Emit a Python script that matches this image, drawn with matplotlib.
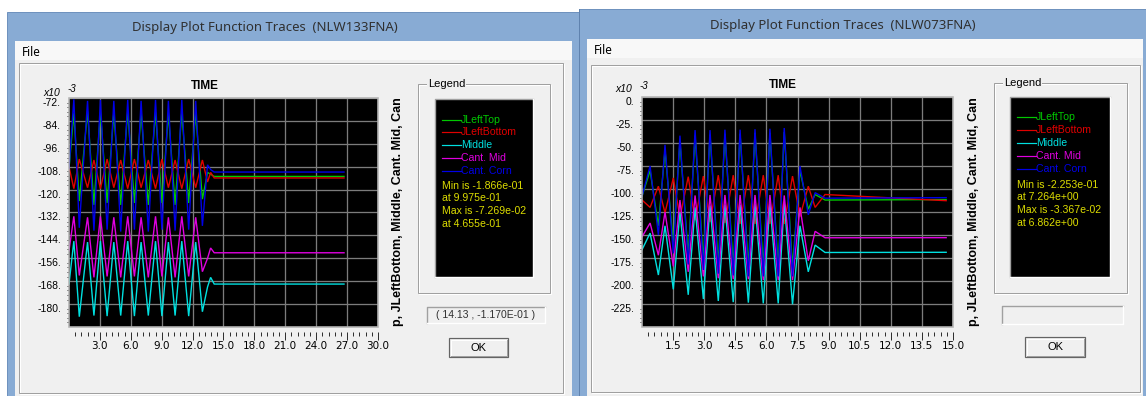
import matplotlib
matplotlib.use("Agg")
import matplotlib.pyplot as plt
from matplotlib.patches import Rectangle
from matplotlib.ticker import FixedLocator

W, H = 1146, 396
PT = 0.72  # one pixel in points (dpi 100)

names = ["JLeftTop", "JLeftBottom", "Middle", "Cant. Mid", "Cant. Corn"]
colors = ["#00C800", "#E00000", "#00E0E0", "#E000E0", "#0000E8"]

# ---- left window (NLW133FNA), values x1e-3 ----
t_left = [0.0, 0.47, 1.0, 1.8, 2.42, 3.05, 3.7, 4.35, 5.02, 5.7, 6.35, 7.0, 7.7,
          8.4, 9.02, 9.65, 10.3, 10.95, 11.62, 12.3, 12.95, 13.45, 13.75, 14.1, 26.7]
top_left = [-109, -80, -126, -79, -128, -79.5, -127, -80, -128, -79, -127, -80, -128,
            -79.5, -127, -80, -128, -79.5, -127, -80, -125, -111, -112, -113.1, -113.1]
bot_left = [-108, -119.5, -104, -119, -104.5, -119.5, -104, -119, -104.5, -119.5, -104, -119, -104.5,
            -119.5, -104, -119, -104.5, -119.5, -104, -119, -104.5, -116, -111, -113.9, -113.9]
mid_left = [-169.5, -147, -186.6, -147.5, -186, -147, -186.3, -147.5, -186, -147, -186.3, -147.5, -186,
            -147, -186.3, -147.5, -186, -147, -186.3, -147.5, -184, -171, -166, -169.5, -169.5]
cmid_left = [-152, -134, -165, -134.5, -166, -134, -165.5, -134.5, -166, -134, -165.5, -134.5, -166,
             -134, -165.5, -134.5, -166, -134, -165.5, -134.5, -163, -156, -150.6, -153.1, -153.1]
corn_left = [-109, -72.7, -140, -73.5, -141.5, -73, -141, -73.5, -142, -73, -141, -73.5, -142,
             -73, -141, -73.5, -141.5, -73, -141, -73.5, -139, -107, -109.5, -110.8, -110.8]
yticks_left = [-72, -84, -96, -108, -120, -132, -144, -156, -168, -180, -192]
xticks_left = [3, 6, 9, 12, 15, 18, 21, 24, 27, 30]
info_left = ["Min is -1.866e-01", "at 9.975e-01", "Max is -7.269e-02", "at 4.655e-01"]

# ---- right window (NLW073FNA), values x1e-3 ----
t_right = [0.0, 0.39, 0.79, 1.11, 1.51, 1.83, 2.23, 2.56, 2.96, 3.28, 3.68, 4.0, 4.4,
           4.73, 5.13, 5.45, 5.85, 6.17, 6.57, 6.86, 7.26, 7.62, 8.02, 8.35, 8.83, 14.67]
top_right = [-108, -80, -140, -58, -160, -48, -172, -42, -178, -41, -182, -40, -184,
             -40, -185, -39, -185, -39, -185, -38, -185, -80, -122, -106, -112, -111.5]
bot_right = [-112, -120, -97, -126, -88, -131, -86.6, -134, -86, -136, -85, -137, -85,
             -138, -85, -138, -85, -138, -85, -138, -86, -130, -97, -120, -106, -112.7]
mid_right = [-166, -148, -193.5, -140, -209, -125, -215, -120, -219.6, -118, -221.7, -117, -223,
             -117, -223.5, -116, -224.3, -116, -224.3, -115, -225.3, -140, -190, -161, -169, -168.8]
cmid_right = [-152, -137, -172, -125, -184, -112, -190, -107, -195, -106.5, -197, -106.5, -198,
              -106.5, -198, -106.5, -199, -106.5, -199, -107, -199, -120, -178, -146, -153, -152.9]
corn_right = [-108, -75, -150, -52, -170, -42, -182, -36, -188, -36, -192, -35.5, -194,
              -35.5, -195, -35, -195, -34.5, -195, -33.7, -195, -75, -128, -104, -110, -109.4]
yticks_right = [0, -25, -50, -75, -100, -125, -150, -175, -200, -225, -250]
xticks_right = [1.5, 3.0, 4.5, 6.0, 7.5, 9.0, 10.5, 12.0, 13.5, 15.0]
info_right = ["Min is -2.253e-01", "at 7.264e+00", "Max is -3.367e-02", "at 6.862e+00"]

UI = "Liberation Sans"
TITLE = "Noto Sans"

fig = plt.figure(figsize=(W / 100, H / 100), dpi=100)
fig.patch.set_facecolor("white")
bg = fig.add_axes([0, 0, 1, 1])
bg.set_xlim(0, W)
bg.set_ylim(H, 0)
bg.axis("off")


def box(x0, y0, x1, y1, fc="none", ec="none", lw=0, z=1):
    bg.add_patch(Rectangle((x0, y0), x1 - x0, y1 - y0, fc=fc, ec=ec, lw=lw * PT, zorder=z))


def etched(x0, y0, x1, y1):
    box(x0 + 1, y0 + 1, x1 + 1, y1 + 1, ec="white", lw=1, z=2)
    box(x0, y0, x1, y1, ec="#A0A0A0", lw=1, z=2)


def sunken(x0, y0, x1, y1, fc):
    box(x0, y0, x1, y1, fc=fc, z=2)
    bg.plot([x0, x0, x1], [y1, y0, y0], color="#A0A0A0", lw=1.4 * PT, zorder=3)
    bg.plot([x0, x1, x1], [y1, y1, y0], color="white", lw=1.4 * PT, zorder=3)


def button(x0, y0, x1, y1, label):
    box(x0, y0, x1, y1, fc="#F0F0F0", ec="#646464", lw=1.2, z=2)
    bg.plot([x0 + 1.5, x0 + 1.5, x1 - 1.5], [y1 - 1.5, y0 + 1.5, y0 + 1.5], color="white", lw=PT, zorder=3)
    bg.plot([x0 + 1.5, x1 - 1.5, x1 - 1.5], [y1 - 1.5, y1 - 1.5, y0 + 1.5], color="#A0A0A0", lw=PT, zorder=3)
    bg.text((x0 + x1) / 2, (y0 + y1) / 2 + 0.5, label, ha="center", va="center",
            fontsize=8, family=UI, color="black", zorder=4)


def window(x0, x1, ytop, cx0, cx1, cy, title, tx, ty):
    box(x0, ytop, x1, H, fc="#88ABD4", ec="#6F92BE", lw=1, z=0.5)
    bg.text(tx, ty, title, ha="center", va="center", fontsize=9.5, family=TITLE, color="#303030")
    box(cx0, cy, cx1, cy + 19, fc="#F8F8F8", z=1)
    box(cx0, cy + 19, cx1, H + 2, fc="#F0F0F0", z=1)
    bg.text(cx0 + 7, cy + 11, "File", ha="left", va="center", fontsize=8.5, family=TITLE, color="black")


def legend(gx0, gy0, gx1, gy1, px0, py0, px1, py1, lx, ly, ly2, info):
    etched(gx0, gy0, gx1, gy1)
    bg.text(gx0 + 10, gy0, "Legend", ha="left", va="center", fontsize=8, family=UI, color="black",
            zorder=4, bbox=dict(fc="#F0F0F0", ec="none", pad=0.8))
    sunken(px0, py0, px1, py1, "black")
    for i, (nm, c) in enumerate(zip(names, colors)):
        bg.plot([lx, lx + 19], [ly[i], ly[i]], color=c, lw=PT * 1.2, zorder=4)
        bg.text(lx + 19, ly[i], nm, ha="left", va="center", fontsize=7.6, family=UI, color=c, zorder=4)
    for i, s in enumerate(info):
        bg.text(lx, ly2[i], s, ha="left", va="center", fontsize=7.6, family=UI, color="#DCDC00", zorder=4)


def plot_panel(px0, py0, px1, py1, t, series, yt, xt, xmax, xminor, yminor):
    ax = fig.add_axes([px0 / W, 1 - py1 / H, (px1 - px0) / W, (py1 - py0) / H])
    ax.set_facecolor("black")
    for c, v in zip(colors, series):
        ax.plot(t, v, color=c, lw=1.0, solid_joinstyle="miter")
    ax.set_xlim(0, xmax)
    ax.set_ylim(yt[-1], yt[0])
    ax.set_axisbelow(True)
    ax.grid(True, which="major", color="#7C7C7C", lw=1.3 * PT)
    ax.set_yticks(yt)
    ax.set_yticklabels(["%d." % v for v in yt[:-1]] + [""])
    ax.yaxis.set_minor_locator(FixedLocator(yminor))
    ax.tick_params(axis="y", which="major", length=0, pad=8 * PT, labelsize=7.5, labelcolor="black")
    ax.tick_params(axis="y", which="minor", length=2.5 * PT, width=PT, color="#303030", direction="out")
    for lb in ax.get_yticklabels():
        lb.set_va("top")
        lb.set_family(UI)
    ax.set_xticks(xt)
    ax.set_xticklabels(["%.1f" % v for v in xt])
    ax.xaxis.set_minor_locator(FixedLocator(xminor))
    ax.tick_params(axis="x", which="major", length=8 * PT, width=PT, color="#303030",
                   pad=1, labelsize=7.5, labelcolor="black")
    ax.tick_params(axis="x", which="minor", length=4 * PT, width=PT, color="#303030")
    for lb in ax.get_xticklabels():
        lb.set_ha("right")
        lb.set_family(UI)
    ax.spines["bottom"].set_position(("outward", 5 * PT))
    for s in ax.spines.values():
        s.set_visible(False)
    ax.add_patch(Rectangle((0, 0), 1, 1, transform=ax.transAxes, fill=False, ec="#B4B4B4",
                           lw=1.6 * PT, clip_on=False, zorder=5))
    return ax


# background between/above windows
box(0, 0, W, H, fc="white", z=0)

# left window
window(7, 579, 12, 15, 572, 41, "Display Plot Function Traces  (NLW133FNA)", 265, 27)
etched(19, 63, 563, 393)
# right window
window(579, W + 2, 9, 587, 1143, 39, "Display Plot Function Traces  (NLW073FNA)", 843, 25)
etched(591, 65, 1140, 392)
bg.plot([579, 579], [9, H], color="#5F82AE", lw=PT, zorder=2)

# axis headers and side labels
for x, y in [(205, 86), (783, 85)]:
    bg.text(x, y, "TIME", ha="center", va="center", fontsize=8.5, family=UI, weight="bold", color="black")
for x, y, sx, sy in [(43, 93, 67, 89), (615, 89, 640, 86)]:
    bg.text(x, y, "x10", ha="left", va="center", fontsize=7.5, family=UI, style="italic", color="black")
    bg.text(sx, sy, "-3", ha="left", va="center", fontsize=7, family=UI, style="italic", color="black")
for x in [398, 974]:
    bg.text(x, 212, "p, JLeftBottom, Middle, Cant. Mid, Can", rotation=90, ha="center", va="center",
            fontsize=9, family=UI, weight="bold", color="black")

legend(418, 84, 550, 293, 435, 99, 533, 277, 442,
       [120, 132, 145, 158, 171], [186, 198, 211, 224], info_left)
legend(994, 83, 1127, 293, 1010, 97, 1110, 277, 1017,
       [117, 130, 143, 156, 169], [185, 197, 210, 223], info_right)

sunken(427, 307, 545, 323, "#F0F0F0")
bg.text(486, 315, "( 14.13 , -1.170E-01 )", ha="center", va="center", fontsize=7.5, family=UI,
        color="#303030", zorder=4)
sunken(1002, 306, 1123, 324, "#F0F0F0")
button(449, 338, 508, 357, "OK")
button(1025, 337, 1085, 357, "OK")

plot_panel(69, 98, 378, 327, t_left,
           [top_left, bot_left, mid_left, cmid_left, corn_left],
           yticks_left, xticks_left, 30,
           [0.6 * i for i in range(1, 50) if i % 5], [-72 - 2.4 * i for i in range(1, 50) if i % 5])
plot_panel(642, 97, 953, 327, t_right,
           [top_right, bot_right, mid_right, cmid_right, corn_right],
           yticks_right, xticks_right, 15,
           [0.3 * i for i in range(1, 50) if i % 5], [-5 * i for i in range(1, 50) if i % 5])

fig.savefig("out.png", dpi=100)
